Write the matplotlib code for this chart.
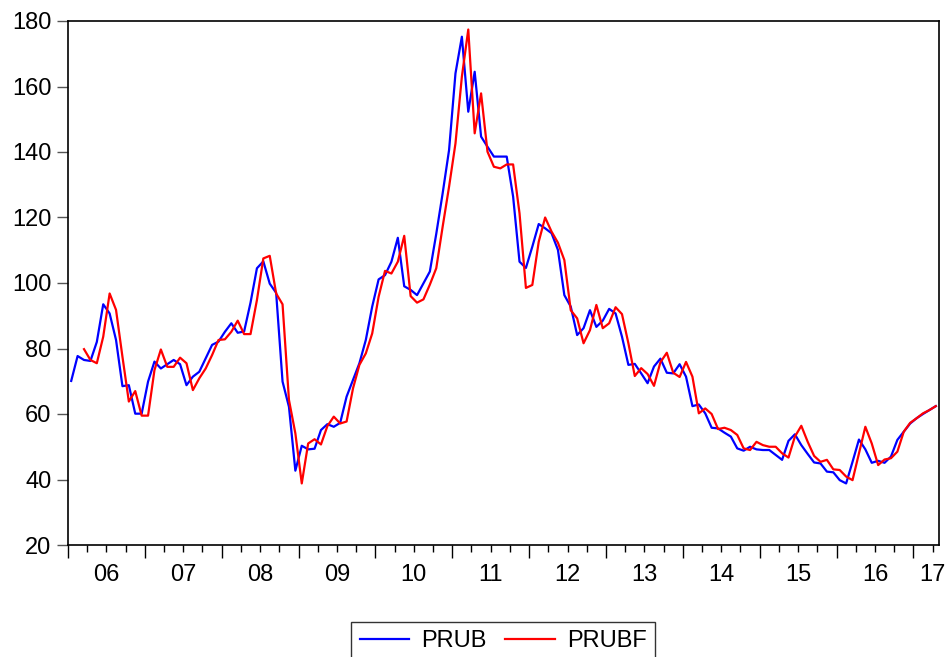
import numpy as np
import matplotlib.pyplot as plt

plt.rcParams['font.family'] = ['Liberation Sans', 'DejaVu Sans']

# Monthly series, 2006M01 - 2017M04
prub = [
    70.1, 77.7, 76.5, 76.2, 82.0, 93.5, 90.7, 82.6, 68.5, 68.8, 60.1, 60.1,
    69.9, 76.0, 73.9, 75.2, 76.5, 75.2, 68.8, 71.4, 72.9, 77.0, 81.1, 82.1,
    85.1, 87.7, 84.8, 85.2, 94.0, 104.5, 106.6, 99.8, 97.0, 69.9, 62.2, 42.7,
    50.3, 49.2, 49.4, 55.1, 56.9, 56.1, 57.3, 65.3, 70.4, 75.5, 82.6, 92.8,
    101.1, 102.4, 106.5, 113.8, 99.0, 97.9, 96.3, 99.9, 103.5, 115.0, 127.4, 140.6,
    164.0, 175.2, 152.3, 164.5, 144.7, 141.6, 138.6, 138.6, 138.6, 126.4, 106.5, 104.6,
    111.1, 118.0, 116.7, 115.2, 110.1, 96.3, 92.8, 84.1, 86.2, 91.7, 86.6, 88.5,
    92.1, 90.7, 83.6, 75.0, 75.3, 72.4, 69.4, 74.5, 76.9, 72.6, 72.4, 75.2,
    71.4, 62.4, 62.9, 60.2, 55.8, 55.6, 54.3, 53.1, 49.5, 48.8, 50.0, 49.2,
    49.0, 49.0, 47.5, 46.0, 51.8, 53.8, 50.5, 47.8, 45.2, 44.9, 42.4, 42.2,
    39.8, 38.8, 45.4, 52.2, 49.2, 45.1, 45.7, 45.1, 47.0, 52.1, 54.6, 57.1,
    58.7, 60.0, 61.2, 62.4,
]

prubf = [
    None, None, 79.8, 76.5, 75.5, 83.6, 96.8, 91.8, 77.5, 63.8, 67.0, 59.5,
    59.5, 73.4, 79.7, 74.4, 74.4, 77.2, 75.5, 67.3, 70.9, 73.9, 78.0, 82.6,
    82.8, 85.1, 88.5, 84.4, 84.4, 94.8, 107.5, 108.3, 96.8, 93.5, 64.3, 54.1,
    38.8, 51.0, 52.3, 50.7, 56.3, 59.2, 57.1, 57.7, 67.8, 75.0, 78.5, 84.6,
    95.8, 103.7, 102.9, 106.5, 114.4, 96.0, 94.0, 95.0, 99.5, 104.5, 117.2, 129.4,
    142.6, 163.0, 177.4, 145.7, 157.9, 140.1, 135.5, 135.0, 136.2, 136.2, 121.3, 98.5,
    99.4, 112.6, 120.0, 115.7, 112.3, 107.0, 91.7, 89.2, 81.6, 85.6, 93.3, 86.2,
    87.7, 92.6, 90.5, 81.6, 71.6, 74.0, 72.2, 68.6, 75.8, 78.7, 72.6, 71.3,
    75.9, 71.4, 60.2, 61.7, 60.0, 55.4, 55.8, 55.1, 53.6, 49.5, 49.0, 51.5,
    50.5, 50.0, 50.0, 48.0, 46.7, 53.1, 56.4, 51.5, 47.2, 45.4, 46.0, 43.1,
    42.9, 40.9, 39.8, 48.0, 56.1, 51.0, 44.4, 46.1, 46.5, 48.5, 54.6, 57.3,
    58.7, 60.2, 61.2, 62.4,
]

year_labels = ['06', '07', '08', '09', '10', '11', '12', '13', '14', '15', '16', '17']

x = np.arange(len(prub))
n = len(prub)

fig = plt.figure(figsize=(9.49, 6.57), dpi=100)
ax = fig.add_axes([68 / 949, 1 - 545 / 657, (939 - 68) / 949, (545 - 21) / 657])

ax.plot(x, prub, color='#0000ff', lw=1.6, label='PRUB')
ax.plot(x, np.array(prubf, dtype=float), color='#ff0000', lw=1.6, label='PRUBF')

ax.set_xlim(-0.5, n - 0.5)
ax.set_ylim(20, 180)
ax.set_yticks(np.arange(20, 181, 20))
ax.tick_params(axis='y', length=8, width=1, color='#555555', pad=4, labelsize=17)

# year boundaries (long ticks) and quarter boundaries (short ticks)
ax.set_xticks(np.arange(-0.5, n, 12))
ax.set_xticks(np.arange(-0.5, n, 3), minor=True)
ax.tick_params(axis='x', which='major', length=9, width=1, labelbottom=False)
ax.tick_params(axis='x', which='minor', length=5, width=1)

# year labels centred in each year
sec = ax.secondary_xaxis('bottom')
label_pos = list(np.arange(5.5, 12 * 11, 12)) + [134.5]
sec.set_xticks(label_pos, year_labels)
sec.tick_params(length=0, pad=14, labelsize=17)
sec.spines['bottom'].set_visible(False)

for s in ax.spines.values():
    s.set_linewidth(1.2)

fig.legend(loc='upper center', bbox_to_anchor=(503 / 949, 1 - 622 / 657),
           ncol=2, fontsize=17, frameon=True, fancybox=False, edgecolor='black',
           handlelength=2.1, handletextpad=0.5, columnspacing=0.8,
           borderpad=0.35, borderaxespad=0)

fig.savefig('out.png', dpi=100)
